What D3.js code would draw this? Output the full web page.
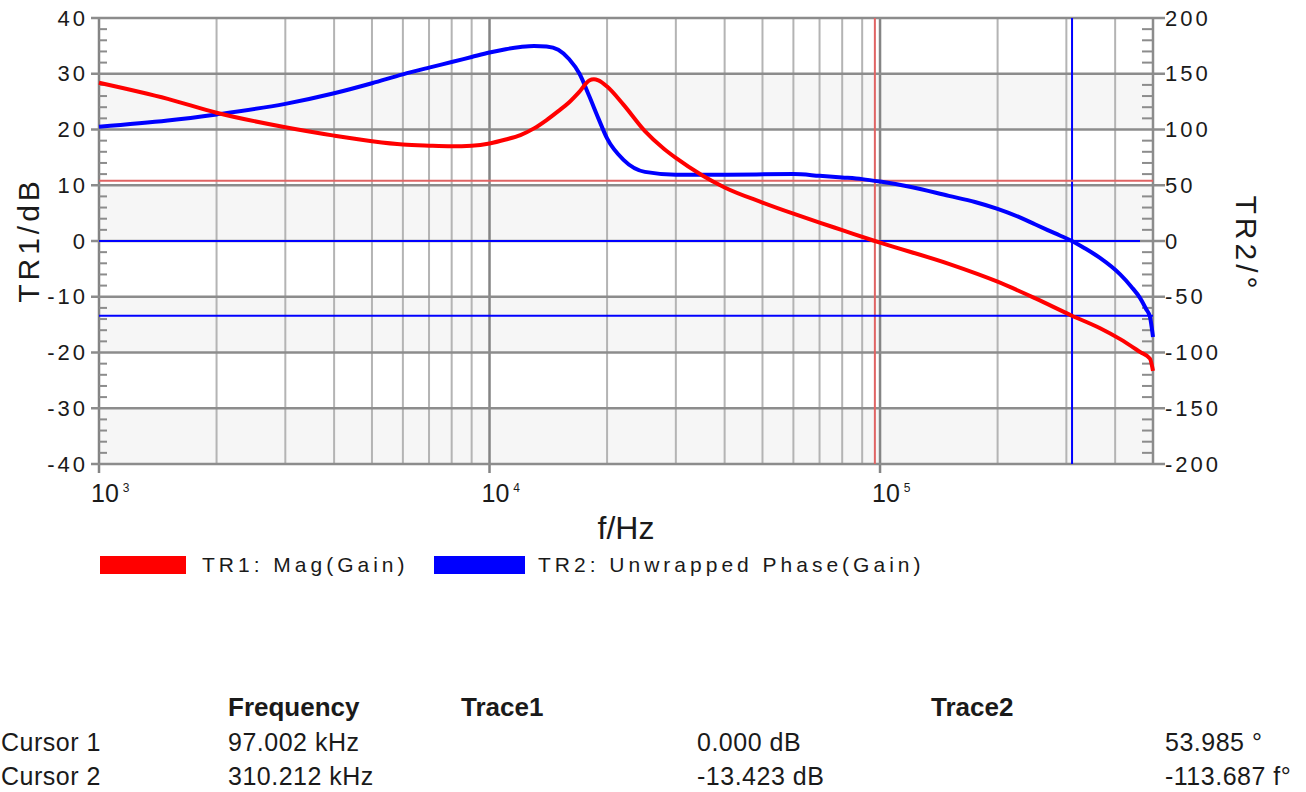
<!DOCTYPE html>
<html><head><meta charset="utf-8">
<script src="https://cdn.jsdelivr.net/npm/d3@7"></script>
<style>
body{margin:0;background:#fff;overflow:hidden;}
text{font-family:"Liberation Sans",Arial,sans-serif;fill:#1a1a1a;}
</style>
</head><body>
<svg id="c" width="1306" height="792"></svg>
<script>
// ---- data ----
const magFreq = [1000,1500,2000,3000,4000,5000,6000,7000,8000,9000,10000,11000,12000,13000,14000,15000,16000,17000,18000,18500,19000,20000,22000,25000,28000,30000,35000,40000,50000,60000,70000,80000,97000,100000,150000,200000,250000,310000,365000,412000,463000,491000,500000];
const magDb   = [28.4,25.5,23.0,20.4,18.9,17.9,17.3,17.1,17.0,17.1,17.5,18.2,19.0,20.2,21.7,23.3,24.9,26.8,28.8,29.0,28.8,27.7,24.5,19.7,16.5,14.9,11.8,9.6,6.9,4.9,3.3,1.95,0.0,-0.3,-4.1,-7.3,-10.3,-13.4,-15.6,-17.6,-19.9,-21.1,-23.3];
const phaseFreq = [1000,1500,2000,3000,4000,5000,6000,7000,8000,9000,10000,11000,12000,13000,14000,15000,16000,17000,18000,19000,20000,22000,25000,30000,40000,60000,70000,80000,90000,100000,120000,150000,175000,200000,225000,250000,280000,310000,335000,365000,412000,440000,463000,480000,491000,500000];
const phaseDeg  = [102.5,108,113.5,123,132.5,141.5,149.5,155.5,160.5,165,169,172,174,175,174.5,171.5,163,150,130,110,92,73,62,59.5,59.5,60,58.5,57,55.5,53.3,48.5,40.5,35,28.8,22,14.8,7.0,0,-6.7,-15,-30,-41,-51,-61,-68,-86];
const magTicks = [40,30,20,10,0,-10,-20,-30,-40];
const phaseTicks = [200,150,100,50,0,-50,-100,-150,-200];
const decadeTicks = [1e3,1e4,1e5];
const decadeExp = ["3","4","5"];
const cursorFreqs = [97002,310212];
const cursorPhaseLevels = [53.985];
const cursorMagLevels = [0,-13.423];
const legendLabels = ["TR1: Mag(Gain)","TR2: Unwrapped Phase(Gain)"];
const tableHeaders = ["Frequency","Trace1","Trace2"];
const tableRows = [["Cursor 1","97.002 kHz","0.000 dB","53.985 °"],["Cursor 2","310.212 kHz","-13.423 dB","-113.687 f°"]];

// ---- layout ----
const L=99,R=1153,T=18,B=464;
const RED="#ff0000",BLUE="#0000ff";
const svg=d3.select("#c");
const x=d3.scaleLog().domain([1e3,5e5]).range([L,R]);
const yM=d3.scaleLinear().domain([-40,40]).range([B,T]);
const yP=d3.scaleLinear().domain([-200,200]).range([B,T]);

// background stripes
const bands=d3.range(30,-40,-20);
svg.selectAll("rect.band").data(bands).enter().append("rect")
  .attr("x",L).attr("width",R-L)
  .attr("y",d=>yM(d)).attr("height",d=>yM(d-10)-yM(d))
  .attr("fill","#f6f6f6");

// vertical minor grid
const minorF=[];
decadeTicks.forEach(k=>{for(let m=2;m<=9;m++){if(m*k<=5e5)minorF.push(m*k);}});
svg.selectAll("line.vmin").data(minorF).enter().append("line")
  .attr("x1",d=>x(d)).attr("x2",d=>x(d)).attr("y1",T).attr("y2",B)
  .attr("stroke","#b4b4b4").attr("stroke-width",2);
svg.selectAll("line.vdec").data(decadeTicks).enter().append("line")
  .attr("x1",d=>x(d)).attr("x2",d=>x(d)).attr("y1",T).attr("y2",B+9)
  .attr("stroke","#848484").attr("stroke-width",2.5);
svg.selectAll("line.hg").data(magTicks).enter().append("line")
  .attr("x1",L-8).attr("x2",R+12).attr("y1",d=>yM(d)).attr("y2",d=>yM(d))
  .attr("stroke","#8c8c8c").attr("stroke-width",2.5);
svg.append("line").attr("x1",R).attr("x2",R).attr("y1",T).attr("y2",B).attr("stroke","#8c8c8c").attr("stroke-width",2.5);
const minorM=d3.range(-40,41,2).filter(v=>v%10!==0);
svg.selectAll("line.lmt").data(minorM).enter().append("line")
  .attr("x1",L).attr("x2",L+8).attr("y1",d=>yM(d)).attr("y2",d=>yM(d))
  .attr("stroke","#8c8c8c").attr("stroke-width",2);
const minorP=d3.range(-200,201,10).filter(v=>v%50!==0);
svg.selectAll("line.rmt").data(minorP).enter().append("line")
  .attr("x1",R-11).attr("x2",R).attr("y1",d=>yP(d)).attr("y2",d=>yP(d))
  .attr("stroke","#8c8c8c").attr("stroke-width",2);

// cursors
svg.selectAll("line.cv").data(cursorFreqs).enter().append("line")
  .attr("x1",d=>x(d)).attr("x2",d=>x(d)).attr("y1",T).attr("y2",B)
  .attr("stroke",(d,i)=>i===0?"#e06464":BLUE).attr("stroke-width",2);
svg.selectAll("line.cp").data(cursorPhaseLevels).enter().append("line")
  .attr("x1",L).attr("x2",R).attr("y1",d=>yP(d)).attr("y2",d=>yP(d))
  .attr("stroke","#e06464").attr("stroke-width",2);
svg.selectAll("line.cm").data(cursorMagLevels).enter().append("line")
  .attr("x1",L).attr("x2",(d,i)=>i===0?R-13:R).attr("y1",d=>yM(d)).attr("y2",d=>yM(d))
  .attr("stroke",BLUE).attr("stroke-width",2);

// curves
const magLine=d3.line().x(d=>x(d[0])).y(d=>yM(d[1])).curve(d3.curveMonotoneX);
const phLine=d3.line().x(d=>x(d[0])).y(d=>yP(d[1])).curve(d3.curveMonotoneX);
svg.append("path").attr("d",phLine(d3.zip(phaseFreq,phaseDeg)))
  .attr("fill","none").attr("stroke",BLUE).attr("stroke-width",4).attr("stroke-linejoin","round");
svg.append("path").attr("d",magLine(d3.zip(magFreq,magDb)))
  .attr("fill","none").attr("stroke",RED).attr("stroke-width",4).attr("stroke-linejoin","round");

// tick labels
svg.selectAll("text.lt").data(magTicks).enter().append("text")
  .attr("x",88).attr("y",d=>yM(d)).attr("dy","0.35em").attr("text-anchor","end")
  .style("font-size","22px").style("letter-spacing","3px").text(d=>d);
svg.selectAll("text.rt").data(phaseTicks).enter().append("text")
  .attr("x",R+12).attr("y",d=>yP(d)).attr("dy","0.35em")
  .style("font-size","22px").style("letter-spacing","3px").text(d=>d);
const xt=svg.selectAll("text.xt").data(decadeTicks).enter().append("text")
  .attr("x",d=>x(d)-8).attr("y",502).style("font-size","25px");
xt.append("tspan").text("10");
xt.append("tspan").attr("dx",4).attr("dy",-10).style("font-size","12px").text((d,i)=>decadeExp[i]);

// axis titles
svg.append("text").attr("x",626).attr("y",539).attr("text-anchor","middle").style("font-size","32px").text("f/Hz");
svg.append("text").attr("transform","translate(39,240) rotate(-90)").attr("text-anchor","middle")
  .style("font-size","30px").style("letter-spacing","4px").text("TR1/dB");
svg.append("text").attr("transform","translate(1236,244) rotate(90)").attr("text-anchor","middle")
  .style("font-size","30px").style("letter-spacing","4px").text("TR2/°");

// legend
const legX=[100,434], legW=[86,91], legTX=[202,538];
legendLabels.forEach((t,i)=>{
  svg.append("rect").attr("x",legX[i]).attr("y",556).attr("width",legW[i]).attr("height",18)
    .attr("fill",i===0?RED:BLUE);
  svg.append("text").attr("x",legTX[i]).attr("y",572).style("font-size","21px").style("letter-spacing","4px").text(t);
});

// table
const colX=[228,461,931];
tableHeaders.forEach((h,i)=>{
  svg.append("text").attr("x",colX[i]).attr("y",716).style("font-size","26px").style("font-weight","bold").text(h);
});
const cellX=[1,228,697,1165], rowY=[751,785];
tableRows.forEach((row,r)=>{
  row.forEach((c,j)=>{
    svg.append("text").attr("x",cellX[j]).attr("y",rowY[r]).style("font-size","25px").style("letter-spacing","0.5px").text(c);
  });
});
</script>
</body></html>
